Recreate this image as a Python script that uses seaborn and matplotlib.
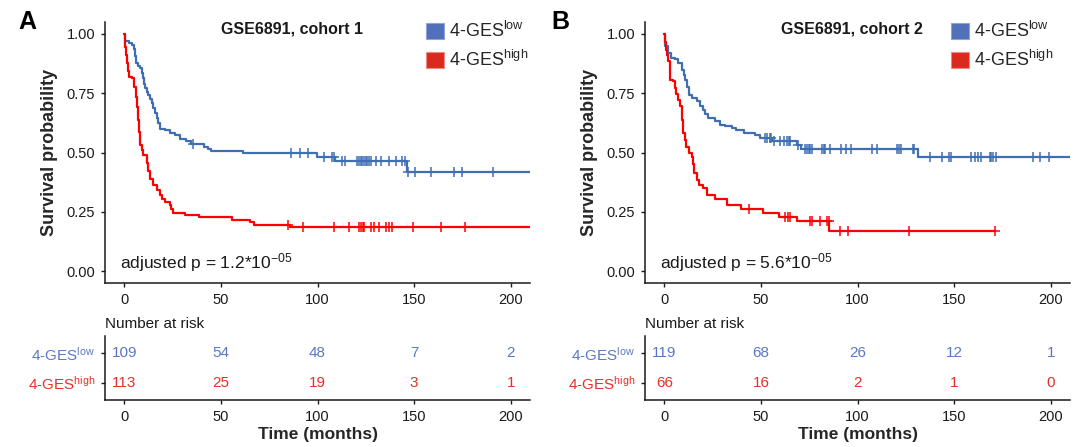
import matplotlib
matplotlib.use("Agg")
import matplotlib.pyplot as plt
from matplotlib.patches import Patch
import numpy as np
import pandas as pd
import seaborn as sns

# ---- Kaplan-Meier step points (months, survival) ----
a_low_t = [0, 0.5, 2.2, 3.9, 4.8, 5.5, 6.1, 7.2, 8.2, 9.0, 9.6, 10.2, 10.8, 11.6, 12.5, 13.3,
           14.2, 15.0, 15.9, 16.8, 17.6, 18.4, 21.0, 23.5, 26.1, 28.7, 32.1, 34.6, 41.5, 43.2,
           44.9, 61.6, 99.7, 109.3, 146.5, 215]
a_low_s = [1.0, 0.968, 0.963, 0.954, 0.935, 0.905, 0.876, 0.866, 0.855, 0.835, 0.813, 0.79,
           0.77, 0.756, 0.742, 0.725, 0.707, 0.687, 0.665, 0.645, 0.623, 0.601, 0.594, 0.583,
           0.573, 0.559, 0.549, 0.535, 0.524, 0.513, 0.506, 0.497, 0.479, 0.465, 0.419, 0.419]
a_low_cens = [35.5, 86.2, 90.7, 95.1, 103.2, 107.5, 108.4, 112.7, 114.0, 120.2, 121.4, 122.3,
              123.2, 124.0, 124.9, 125.7, 126.6, 127.5, 130.1, 132.7, 137.0, 140.5, 144.0,
              145.1, 146.9, 150.5, 158.7, 170.8, 174.6, 190.7]

a_high_t = [0, 0.5, 1.0, 1.4, 1.8, 2.2, 3.9, 4.8, 6.1, 6.7, 7.3, 7.8, 8.2, 9.0, 9.9, 11.6,
            12.4, 13.3, 15.0, 16.7, 18.4, 19.7, 21.0, 23.5, 24.4, 25.3, 31.2, 38.9, 55.5,
            65.0, 67.0, 86.0, 215]
a_high_s = [1.0, 0.946, 0.91, 0.876, 0.845, 0.82, 0.813, 0.777, 0.735, 0.69, 0.637, 0.585,
            0.531, 0.51, 0.489, 0.454, 0.42, 0.39, 0.362, 0.341, 0.32, 0.305, 0.292, 0.277,
            0.26, 0.245, 0.238, 0.228, 0.216, 0.206, 0.196, 0.184, 0.184]
a_high_cens = [84.5, 92.3, 108.4, 116.2, 121.7, 122.6, 123.5, 124.3, 127.5, 129.5, 131.8,
               135.3, 137.0, 138.4, 149.5, 163.9, 176.5]

b_low_t = [0, 0.3, 0.5, 1.8, 3.6, 5.4, 7.2, 9.0, 10.0, 10.8, 11.7, 12.6, 14.4, 17.1, 18.5,
           19.8, 21.2, 22.5, 26.1, 28.8, 31.5, 35.1, 36.9, 41.4, 46.8, 49.5, 55.7, 68.7, 70.8,
           131.5, 215]
b_low_s = [1.0, 0.97, 0.948, 0.92, 0.899, 0.892, 0.877, 0.849, 0.828, 0.807, 0.775, 0.744,
           0.73, 0.715, 0.698, 0.68, 0.662, 0.645, 0.631, 0.617, 0.613, 0.603, 0.596, 0.582,
           0.575, 0.561, 0.548, 0.53, 0.514, 0.482, 0.482]
b_low_cens = [52.2, 53.4, 54.5, 55.0, 56.6, 60.0, 61.8, 63.5, 64.4, 64.9, 69.2, 73.0, 73.9,
              74.8, 75.6, 76.5, 81.7, 82.6, 83.4, 85.7, 91.2, 93.8, 96.8, 107.7, 110.3, 120.7,
              121.6, 122.4, 128.5, 129.4, 137.7, 143.6, 147.6, 148.4, 158.8, 160.6, 162.3,
              164.0, 168.4, 169.2, 170.1, 171.8, 190.9, 194.4, 199.0]

b_high_t = [0, 0.5, 0.9, 1.4, 1.8, 2.7, 4.5, 5.4, 6.3, 7.2, 8.1, 9.0, 9.9, 10.6, 11.3, 12.6,
            14.4, 14.9, 15.3, 16.7, 18.0, 19.8, 22.1, 26.1, 32.4, 39.5, 50.9, 59.2, 68.7,
            85.5, 171.2]
b_high_s = [1.0, 0.965, 0.934, 0.91, 0.885, 0.807, 0.80, 0.772, 0.745, 0.722, 0.694, 0.638,
            0.582, 0.553, 0.525, 0.497, 0.483, 0.45, 0.413, 0.385, 0.363, 0.349, 0.321, 0.303,
            0.279, 0.261, 0.245, 0.229, 0.21, 0.168, 0.168]
b_high_cens = [43.6, 62.7, 63.9, 65.0, 75.3, 76.5, 80.5, 84.3, 85.2, 90.9, 95.1, 126.8, 171.2]

# ---- Number at risk ----
risk_times = [0, 50, 100, 150, 200]
a_low_risk = [109, 54, 48, 7, 2]
a_high_risk = [113, 25, 19, 3, 1]
b_low_risk = [119, 68, 26, 12, 1]
b_high_risk = [66, 16, 2, 1, 0]

titles = ["GSE6891, cohort 1", "GSE6891, cohort 2"]
pvals = [r"adjusted p = 1.2*10$^{-05}$", r"adjusted p = 5.6*10$^{-05}$"]
group_labels = [r"4-GES$^{\mathrm{low}}$", r"4-GES$^{\mathrm{high}}$"]

LINE_BLUE = "#3F6EB3"
LINE_RED = "#FF0000"
KEY_BLUE = "#5070B9"
KEY_RED = "#DA2A1D"
TXT_BLUE = "#5A78C2"
TXT_RED = "#E5302A"
INK = "#1a1a1a"

sns.set_theme(style="ticks")
plt.rcParams.update({
    "font.family": ["Liberation Sans", "DejaVu Sans"],
    "mathtext.fontset": "custom",
    "mathtext.rm": "Liberation Sans",
    "mathtext.it": "Liberation Sans:italic",
    "mathtext.bf": "Liberation Sans:bold",
    "axes.edgecolor": INK,
    "axes.linewidth": 1.1,
    "xtick.color": INK,
    "ytick.color": INK,
    "xtick.labelcolor": INK,
    "ytick.labelcolor": INK,
    "xtick.major.size": 3,
    "ytick.major.size": 3,
    "xtick.major.width": 1.0,
    "ytick.major.width": 1.0,
})


def step_value(ts, ss, c):
    idx = np.searchsorted(ts, c, side="right") - 1
    return ss[idx]


def draw_km(ax, curves, title, title_x, pval, leg_x):
    for ts, ss, cens, col in curves:
        df = pd.DataFrame({"t": ts, "s": ss})
        sns.lineplot(data=df, x="t", y="s", ax=ax, color=col, linewidth=1.6,
                     drawstyle="steps-post", estimator=None, sort=False)
        cdf = pd.DataFrame({"t": cens, "s": [step_value(np.array(ts), np.array(ss), c) for c in cens]})
        sns.scatterplot(data=cdf, x="t", y="s", ax=ax, marker="+", s=55, color=col,
                        linewidth=1.1, zorder=3)
    ax.set_xlim(-10, 210)
    ax.set_ylim(-0.05, 1.05)
    ax.set_xticks(risk_times)
    ax.set_yticks([0, 0.25, 0.5, 0.75, 1.0])
    ax.set_yticklabels(["0.00", "0.25", "0.50", "0.75", "1.00"])
    ax.tick_params(labelsize=10.5, pad=4)
    ax.set_xlabel("")
    ax.set_ylabel("Survival probability", fontsize=13, fontweight="bold", labelpad=6)
    sns.despine(ax=ax)
    ax.text(title_x, 0.975, title, transform=ax.transAxes, ha="center", va="center",
            fontsize=11.5, fontweight="bold", color=INK)
    ax.text(-2, 0.012, pval, fontsize=12.5, color=INK, va="baseline", ha="left")
    handles = [Patch(facecolor=KEY_BLUE, edgecolor="#8fa3d6", linewidth=0.8),
               Patch(facecolor=KEY_RED, edgecolor="#ec8a80", linewidth=0.8)]
    ax.legend(handles, group_labels, loc="upper left", bbox_to_anchor=(leg_x, 1.005),
              frameon=False, fontsize=13, handlelength=1.0, handleheight=1.0,
              handletextpad=0.3, labelspacing=0.5, borderaxespad=0, borderpad=0)


def draw_risk(ax, low, high):
    for i, t in enumerate(risk_times):
        ax.text(t, 2, str(low[i]), ha="center", va="center", fontsize=11, color=TXT_BLUE)
        ax.text(t, 1, str(high[i]), ha="center", va="center", fontsize=11, color=TXT_RED)
    ax.set_xlim(-10, 210)
    ax.set_ylim(0.4, 2.6)
    ax.set_xticks(risk_times)
    ax.set_yticks([2, 1])
    ax.set_yticklabels(group_labels)
    ax.tick_params(axis="y", labelsize=11, pad=4)
    ax.tick_params(axis="x", labelsize=10.5, pad=4)
    for lab, col in zip(ax.get_yticklabels(), [TXT_BLUE, TXT_RED]):
        lab.set_color(col)
    ax.set_xlabel("Time (months)", fontsize=12.5, fontweight="bold", labelpad=2)
    sns.despine(ax=ax)
    ax.text(0, 1.19, "Number at risk", transform=ax.transAxes, ha="left", va="center",
            fontsize=11, color=INK)


fig = plt.figure(figsize=(10.84, 4.47), dpi=100)
W, H = 1084, 447
lefts = [105, 645]
aw = 425
main_axes = [fig.add_axes([l / W, (H - 283) / H, aw / W, (283 - 22) / H]) for l in lefts]
risk_axes = [fig.add_axes([l / W, (H - 400) / H, aw / W, 64 / H]) for l in lefts]

draw_km(main_axes[0],
        [(a_low_t, a_low_s, a_low_cens, LINE_BLUE), (a_high_t, a_high_s, a_high_cens, LINE_RED)],
        titles[0], 0.44, pvals[0], 0.755)
draw_km(main_axes[1],
        [(b_low_t, b_low_s, b_low_cens, LINE_BLUE), (b_high_t, b_high_s, b_high_cens, LINE_RED)],
        titles[1], 0.488, pvals[1], 0.72)
draw_risk(risk_axes[0], a_low_risk, a_high_risk)
draw_risk(risk_axes[1], b_low_risk, b_high_risk)

fig.text(27 / W, 1 - 22 / H, "A", fontsize=18, fontweight="bold", ha="center", va="center", color="black")
fig.text(560 / W, 1 - 22 / H, "B", fontsize=18, fontweight="bold", ha="center", va="center", color="black")

fig.savefig("out.png", dpi=100)
